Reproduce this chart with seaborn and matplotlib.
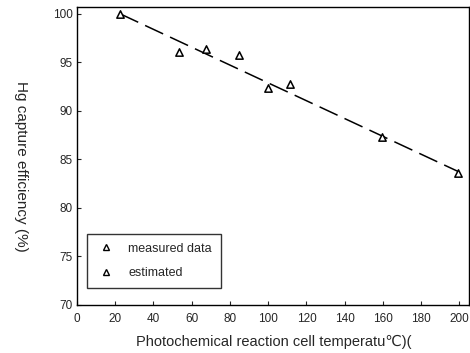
import seaborn as sns
import pandas as pd
import matplotlib.pyplot as plt
from matplotlib.lines import Line2D

# data
temperature = [22.6, 53.5, 67.5, 84.8, 99.8, 111.5, 159.7, 199.4]
measured = [100.0, 96.05, 96.36, 95.77, 92.4, 92.75, 87.3, 83.6]
estimated = [100.0, 97.16, 95.87, 94.28, 92.9, 91.83, 87.4, 83.75]

df = pd.DataFrame({'temp': temperature, 'measured': measured, 'estimated': estimated})

sns.set_style('ticks')
plt.rcParams['font.family'] = ['Liberation Sans', 'DejaVu Sans']

fig = plt.figure(figsize=(4.7, 3.53), dpi=100)
ax = fig.add_axes([0.1638, 0.136, 0.834, 0.844])

sns.lineplot(data=df, x='temp', y='estimated', ax=ax, color='black',
             linewidth=1.1, linestyle=(0, (13, 5)))
sns.scatterplot(data=df, x='temp', y='measured', ax=ax, marker='^',
                s=28, facecolor='white', edgecolor='black', linewidth=1.1, zorder=3)

ax.set_xlim(0, 205)
ax.set_ylim(70, 100.7)
ax.set_xticks(range(0, 201, 20))
ax.set_yticks(range(70, 101, 5))
ax.tick_params(direction='in', length=3, width=0.8, labelsize=8.5)
ax.tick_params(axis='x', pad=6)
ax.tick_params(axis='y', pad=3)
for s in ax.spines.values():
    s.set_linewidth(1.0)
    s.set_color('black')

ax.set_xlabel('')
ax.set_ylabel('')
fig.text(0.583, 0.031, 'Photochemical reaction cell temperatu\u2103)(', fontsize=10.5,
         ha='center', va='center')
fig.text(0.045, 0.53, 'Hg capture efficiency (%)', fontsize=11, rotation=270,
         ha='center', va='center')

handles = [
    Line2D([], [], marker='^', linestyle='none', markersize=4.5, markerfacecolor='white',
           markeredgecolor='black', markeredgewidth=1.0),
    Line2D([], [], marker='^', linestyle='none', markersize=4.5, markerfacecolor='white',
           markeredgecolor='black', markeredgewidth=1.0),
]
leg = ax.legend(handles, ['measured data', 'estimated'], loc='lower left',
                bbox_to_anchor=(0.0255, 0.057), borderaxespad=0, fontsize=9,
                frameon=True, fancybox=False, handletextpad=1.0, labelspacing=1.0,
                borderpad=0.7, handlelength=1.6)
leg.get_frame().set_edgecolor('black')
leg.get_frame().set_linewidth(1.0)

plt.savefig('out.png', dpi=100)
